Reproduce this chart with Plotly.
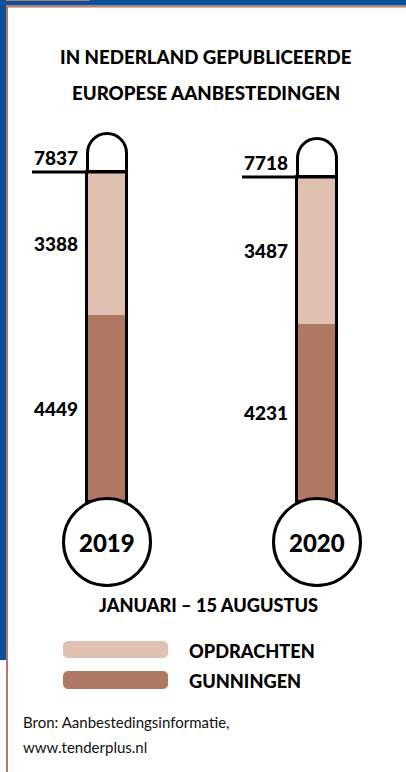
import plotly.graph_objects as go

# ---------------- data ----------------
years = ["2019", "2020"]
opdrachten = [3388, 3487]
gunningen = [4449, 4231]
totals = [7837, 7718]
title_lines = ["IN NEDERLAND GEPUBLICEERDE", "EUROPESE AANBESTEDINGEN"]
period = "JANUARI \u2013 15 AUGUSTUS"
legend_names = ["OPDRACHTEN", "GUNNINGEN"]
source_lines = ["Bron: Aanbestedingsinformatie,", "www.tenderplus.nl"]

# ---------------- style ----------------
W, H = 406, 772
BLUE = "#0b4f9b"
BROWN = "#b07a64"
LIGHT = "#dfc0b1"
DARK = "#b07762"
FONT = "Lato"
BAR_W = 0.186


def px(x):
    return x / W


def py(y):
    return 1 - y / H


xs = list(range(len(years)))

fig = go.Figure()
fig.add_trace(go.Bar(x=xs, y=gunningen, width=BAR_W, marker=dict(color=DARK, line=dict(width=0)),
                     name=legend_names[1], hoverinfo="skip", showlegend=False))
fig.add_trace(go.Bar(x=xs, y=opdrachten, base=gunningen, width=BAR_W,
                     marker=dict(color=LIGHT, line=dict(width=0)),
                     name=legend_names[0], hoverinfo="skip", showlegend=False))
fig.add_trace(go.Bar(x=xs, y=totals, width=BAR_W,
                     marker=dict(color="rgba(0,0,0,0)", line=dict(width=3, color="black")),
                     hoverinfo="skip", showlegend=False))

shapes = []
annotations = []

# frame
shapes += [
    dict(type="rect", xref="paper", yref="paper", x0=px(0), x1=px(406), y0=py(0), y1=py(5.5),
         fillcolor=BLUE, line=dict(width=0), layer="above"),
    dict(type="rect", xref="paper", yref="paper", x0=px(6), x1=px(406), y0=py(5.5), y1=py(7.5),
         fillcolor=BROWN, line=dict(width=0), layer="above"),
    dict(type="rect", xref="paper", yref="paper", x0=px(0), x1=px(6), y0=py(0), y1=py(660),
         fillcolor=BLUE, line=dict(width=0), layer="above"),
    dict(type="rect", xref="paper", yref="paper", x0=px(6), x1=px(8), y0=py(5.5), y1=py(772),
         fillcolor=BROWN, line=dict(width=0), layer="above"),
    dict(type="rect", xref="paper", yref="paper", x0=px(6), x1=px(90), y0=py(0), y1=py(1),
         fillcolor=BROWN, line=dict(width=0), layer="above"),
]

K = 0.5523
r = 19.5
h = 19
for i, yr in enumerate(years):
    # cap of the tube above the total
    path = (f"M {-r},0 L {-r},{h} "
            f"C {-r},{h + K * r} {-K * r},{h + r} 0,{h + r} "
            f"C {K * r},{h + r} {r},{h + K * r} {r},{h} L {r},0")
    shapes.append(dict(type="path", xref="x", yref="y", xsizemode="pixel", ysizemode="pixel",
                       xanchor=i, yanchor=totals[i], path=path,
                       line=dict(color="black", width=3), fillcolor="rgba(0,0,0,0)"))
    # total marker line
    shapes.append(dict(type="line", xref="x", yref="y", xsizemode="pixel", xanchor=i,
                       x0=-75, x1=r, y0=totals[i], y1=totals[i],
                       line=dict(color="black", width=3)))
    # bulb
    shapes.append(dict(type="circle", xref="x", yref="y", xsizemode="pixel", ysizemode="pixel",
                       xanchor=i, yanchor=0, x0=-43.5, x1=43.5, y0=-83.5, y1=3.5,
                       fillcolor="white", line=dict(color="black", width=3)))
    annotations.append(dict(x=i, y=0, xref="x", yref="y", yshift=-40, text=yr, showarrow=False,
                            font=dict(family=FONT, size=24, color="black", weight=900),
                            xanchor="center", yanchor="middle"))
    # value labels
    annotations.append(dict(x=i, y=totals[i], xref="x", yref="y", xshift=-27, yshift=1,
                            text=str(totals[i]), showarrow=False, xanchor="right", yanchor="bottom",
                            font=dict(family=FONT, size=19, color="black", weight=900)))
    annotations.append(dict(x=i, y=gunningen[i] + opdrachten[i] / 2, xref="x", yref="y", xshift=-27,
                            text=str(opdrachten[i]), showarrow=False, xanchor="right", yanchor="middle",
                            font=dict(family=FONT, size=19, color="black", weight=900)))
    annotations.append(dict(x=i, y=gunningen[i] / 2, xref="x", yref="y", xshift=-27,
                            text=str(gunningen[i]), showarrow=False, xanchor="right", yanchor="middle",
                            font=dict(family=FONT, size=19, color="black", weight=900)))

# titles
for t, yy in zip(title_lines, [57, 93]):
    annotations.append(dict(x=px(205.5), y=py(yy), xref="paper", yref="paper", text=t, showarrow=False,
                            xanchor="center", yanchor="middle",
                            font=dict(family=FONT, size=18.7, color="black", weight=900)))
annotations.append(dict(x=px(208.5), y=py(605), xref="paper", yref="paper", text=period, showarrow=False,
                        xanchor="center", yanchor="middle",
                        font=dict(family=FONT, size=18.2, color="black", weight=900)))

# legend
def rounded_rect(x0, y0, x1, y1, rr):
    k = K * rr
    return (f"M {x0 + rr},{-y0} L {x1 - rr},{-y0} "
            f"C {x1 - rr + k},{-y0} {x1},{-y0 - rr + k} {x1},{-y0 - rr} "
            f"L {x1},{-y1 + rr} "
            f"C {x1},{-y1 + rr - k} {x1 - rr + k},{-y1} {x1 - rr},{-y1} "
            f"L {x0 + rr},{-y1} "
            f"C {x0 + rr - k},{-y1} {x0},{-y1 + rr - k} {x0},{-y1 + rr} "
            f"L {x0},{-y0 - rr} "
            f"C {x0},{-y0 - rr + k} {x0 + rr - k},{-y0} {x0 + rr},{-y0} Z")

for name, col, (ya, yb) in zip(legend_names, [LIGHT, DARK], [(641, 658), (671, 689)]):
    shapes.append(dict(type="path", xref="paper", yref="paper", xsizemode="pixel", ysizemode="pixel",
                       xanchor=0, yanchor=1, path=rounded_rect(63, ya, 168, yb, 5),
                       fillcolor=col, line=dict(width=0)))
    annotations.append(dict(x=px(187), y=py((ya + yb) / 2 + 1), xref="paper", yref="paper", text=name,
                            showarrow=False, xanchor="left", yanchor="middle",
                            font=dict(family=FONT, size=18.2, color="black", weight=900)))

# source
for t, yy in zip(source_lines, [722, 747]):
    annotations.append(dict(x=px(21), y=py(yy), xref="paper", yref="paper", text=t, showarrow=False,
                            xanchor="left", yanchor="middle",
                            font=dict(family=FONT, size=15, color="#111111")))

fig.update_layout(
    width=W, height=H, autosize=False,
    margin=dict(l=0, r=0, t=0, b=0, pad=0),
    paper_bgcolor="white", plot_bgcolor="white",
    barmode="overlay", bargap=0,
    showlegend=False,
    xaxis=dict(range=[-0.5095, 1.4238], visible=False, fixedrange=True),
    yaxis=dict(range=[-6413, 11924], visible=False, fixedrange=True),
    shapes=shapes, annotations=annotations,
)

fig.write_html("out.html", include_plotlyjs=True, config={"displayModeBar": False})
